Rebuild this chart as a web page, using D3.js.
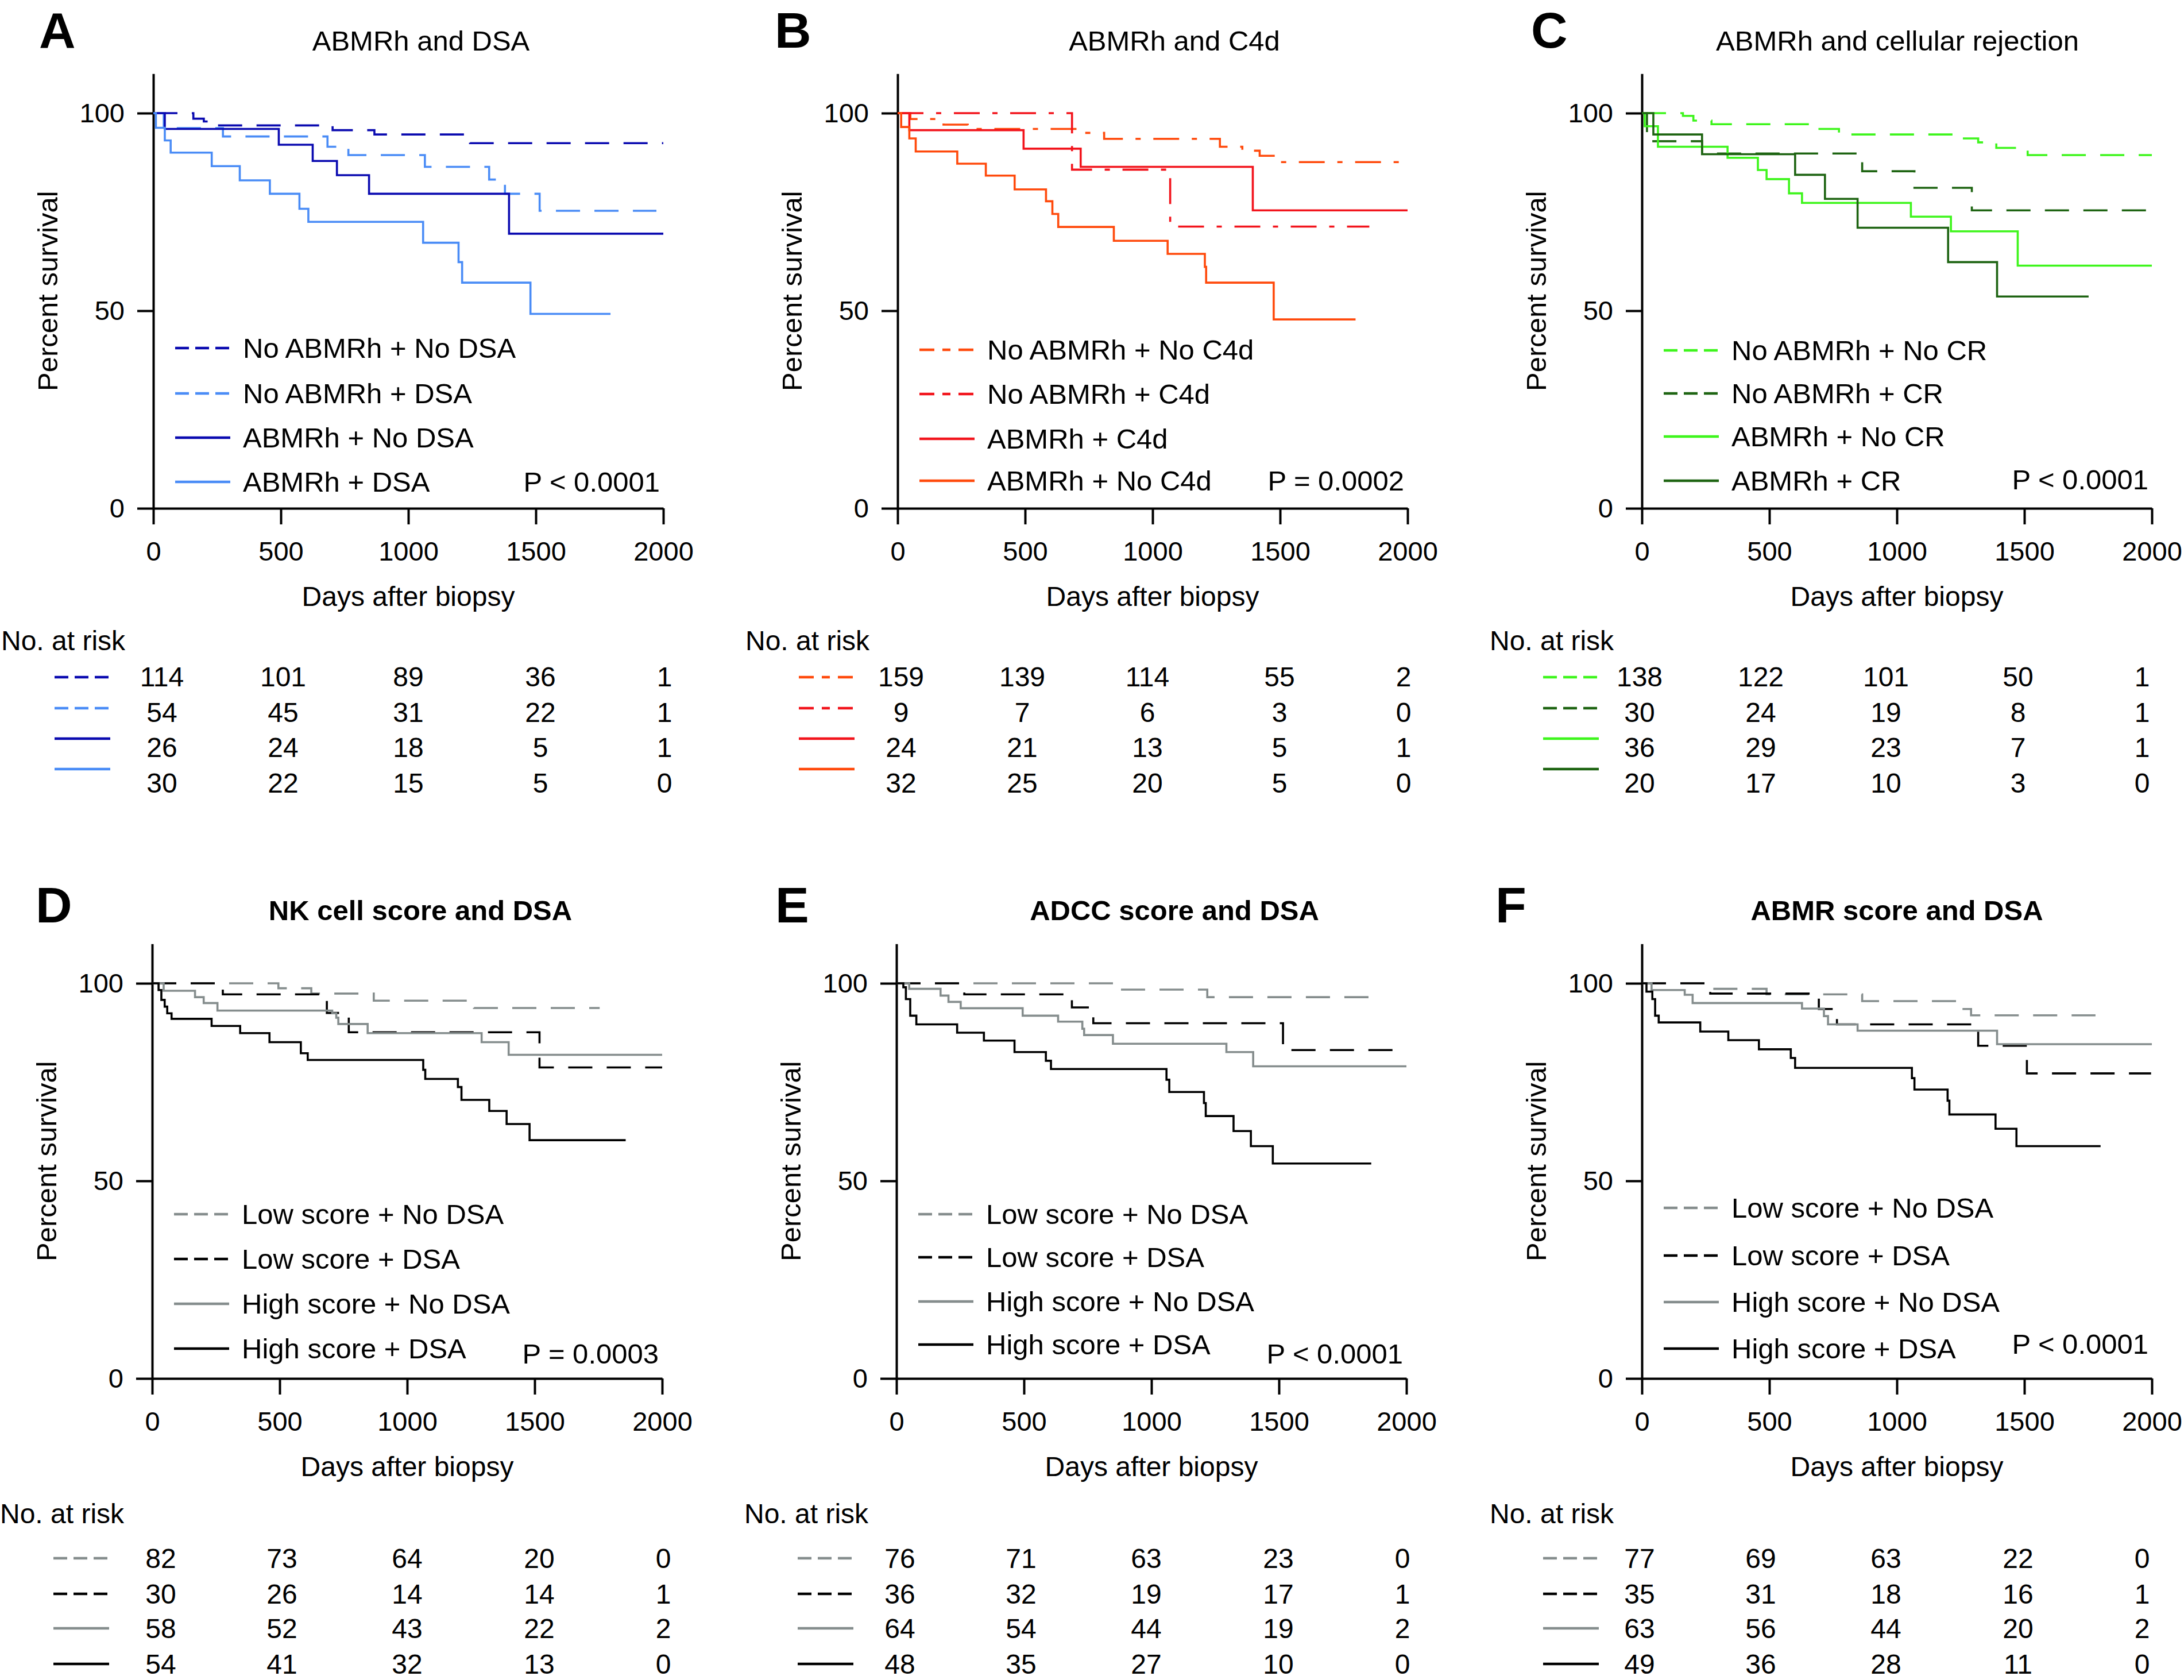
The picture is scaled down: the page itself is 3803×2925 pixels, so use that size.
<!DOCTYPE html>
<html><head><meta charset="utf-8">
<script src="https://cdn.jsdelivr.net/npm/d3@7"></script>
<style>
body{margin:0;background:#fff}
svg{display:block;background:#fff}
text{font-family:"Liberation Sans",Arial,Helvetica,sans-serif;fill:#000}
</style>
</head><body>
<svg id="chart" width="3803" height="2925"></svg>
<script>
// ---------------- DATA ----------------
const xTicks = [0, 500, 1000, 1500, 2000];
const yTicks = [0, 50, 100];
const panelLetters = ["A", "B", "C", "D", "E", "F"];
const panelTitles = ["ABMRh and DSA", "ABMRh and C4d", "ABMRh and cellular rejection",
                     "NK cell score and DSA", "ADCC score and DSA", "ABMR score and DSA"];
const pValues = ["P < 0.0001", "P = 0.0002", "P < 0.0001", "P = 0.0003", "P < 0.0001", "P < 0.0001"];

const labelsA = ["No ABMRh + No DSA", "No ABMRh + DSA", "ABMRh + No DSA", "ABMRh + DSA"];
const labelsB = ["No ABMRh + No C4d", "No ABMRh + C4d", "ABMRh + C4d", "ABMRh + No C4d"];
const labelsC = ["No ABMRh + No CR", "No ABMRh + CR", "ABMRh + No CR", "ABMRh + CR"];
const labelsScore = ["Low score + No DSA", "Low score + DSA", "High score + No DSA", "High score + DSA"];

// survival curves: [day, percent survival]
const A1 = [[0,100],[157,98.6],[198,97.9],[232,96.9],[703,95.7],[867,94.6],[1242,92.4],[2000,92.4]];
const A2 = [[0,100],[41,96.2],[273,94.1],[683,91.5],[765,89.4],[1065,86.4],[1317,83.2],[1379,79.6],[1515,75.3],[1973,75.3]];
const A3 = [[0,100],[45,96.0],[492,92.0],[625,87.9],[720,84.3],[846,79.6],[1395,69.5],[2000,69.5]];
const A4 = [[0,100],[10,96.3],[45,93.1],[68,90.0],[229,86.6],[339,83.0],[457,79.6],[573,75.8],[608,72.5],[1058,67.2],[1197,62.3],[1211,57.1],[1479,49.2],[1793,49.2]];

const B1 = [[0,100],[50,98.5],[180,97.1],[275,96.0],[740,95.0],[810,93.5],[1264,91.5],[1352,90.5],[1420,89.2],[1496,87.6],[2000,87.6]];
const B2 = [[0,100],[684,85.7],[1069,71.3],[1850,71.3]];
const B3 = [[0,100],[46,95.7],[494,91.0],[718,86.4],[1393,75.4],[2000,75.4]];
const B4 = [[0,100],[14,96.5],[46,93.6],[71,90.3],[234,87.2],[346,84.2],[459,80.7],[582,77.7],[607,74.5],[630,71.2],[848,67.7],[1059,64.4],[1205,61.1],[1210,57.1],[1475,47.8],[1796,47.8]];

const C1 = [[0,100],[161,99.3],[202,98.1],[273,97.2],[691,96.0],[773,94.6],[1246,93.6],[1319,92.6],[1390,91.2],[1513,89.4],[2000,89.4]];
const C2 = [[0,100],[20,92.9],[236,89.8],[864,85.3],[1069,81.1],[1294,75.4],[2000,75.4]];
const C3 = [[0,100],[11,96.7],[63,91.5],[336,88.7],[455,85.6],[489,83.3],[577,79.7],[628,77.3],[1055,73.8],[1212,70.1],[1474,61.4],[2000,61.4]];
const C4 = [[0,100],[45,94.6],[236,89.6],[601,84.4],[718,78.3],[846,71.0],[1201,62.3],[1393,53.6],[1752,53.6]];

const D1 = [[0,100],[495,98.75],[624,97.4],[869,95.6],[1262,93.75],[1755,93.75]];
const D2 = [[0,100],[277,97.2],[685,92.5],[771,87.6],[1519,78.7],[2000,78.7]];
const D3 = [[0,100],[45,98.1],[168,96.5],[202,95.0],[256,93.1],[706,92.4],[722,91.3],[730,89.7],[845,87.4],[1292,85.1],[1398,81.9],[2000,81.9]];
const D4 = [[0,100],[25,98.3],[36,95.8],[49,94.1],[59,92.4],[76,91.0],[233,89.2],[345,87.4],[460,85.1],[583,82.3],[610,80.6],[1063,78.1],[1071,75.8],[1199,73.75],[1213,70.5],[1322,67.7],[1390,64.4],[1480,60.3],[1857,60.3]];

const E1 = [[0,100],[865,98.4],[1219,96.5],[1853,96.5]];
const E2 = [[0,100],[266,97.2],[688,93.9],[772,89.9],[1516,83.1],[1948,83.1]];
const E3 = [[0,100],[50,98.6],[173,96.9],[204,95.3],[252,93.7],[495,91.8],[634,90.3],[729,88.5],[736,86.9],[849,84.7],[1294,82.6],[1399,79.0],[2000,79.0]];
const E4 = [[0,100],[27,99.0],[37,96.0],[54,91.8],[78,89.6],[238,87.5],[343,85.5],[463,82.6],[586,80.4],[606,78.3],[1059,75.6],[1070,72.5],[1206,69.7],[1213,66.4],[1322,62.6],[1390,58.8],[1476,54.4],[1862,54.4]];

const F1 = [[0,100],[270,98.6],[489,97.2],[864,95.5],[1253,93.5],[1291,91.9],[1779,91.9]];
const F2 = [[0,100],[268,97.4],[694,93.5],[765,89.6],[1319,84.2],[1510,77.2],[1997,77.2]];
const F3 = [[0,100],[38,98.3],[168,97.1],[199,95.0],[628,93.6],[714,91.7],[730,89.6],[846,88.0],[1393,84.6],[2000,84.6]];
const F4 = [[0,100],[18,97.9],[41,96.0],[52,91.8],[66,90.1],[229,87.8],[339,85.6],[459,83.3],[584,81.1],[601,78.6],[1059,76.0],[1069,73.1],[1199,70.3],[1206,66.8],[1387,63.2],[1469,58.8],[1799,58.8]];

// numbers at risk (at 0, 500, 1000, 1500, 2000 days)
const riskA = [[114,101,89,36,1],[54,45,31,22,1],[26,24,18,5,1],[30,22,15,5,0]];
const riskB = [[159,139,114,55,2],[9,7,6,3,0],[24,21,13,5,1],[32,25,20,5,0]];
const riskC = [[138,122,101,50,1],[30,24,19,8,1],[36,29,23,7,1],[20,17,10,3,0]];
const riskD = [[82,73,64,20,0],[30,26,14,14,1],[58,52,43,22,2],[54,41,32,13,0]];
const riskE = [[76,71,63,23,0],[36,32,19,17,1],[64,54,44,19,2],[48,35,27,10,0]];
const riskF = [[77,69,63,22,0],[35,31,18,16,1],[63,56,44,20,2],[49,36,28,11,0]];

// ---------------- STYLE / LAYOUT ----------------
const col = {
  darkBlue:"#0a0ab0", lightBlue:"#4a8cf6", orange:"#ff4a0c", red:"#f2141c",
  brightGreen:"#3ef51c", darkGreen:"#1e6412", gray:"#858d8d", black:"#000000"
};
const dash = {
  solid: {curve:null, key:null},
  dashed:{curve:"42,25", key:"24,11"},
  dashdot:{curve:"45,22,9,22", key:"26,14,14,14"}
};

const panels = [
  {series:[A1,A2,A3,A4], labels:labelsA, risk:riskA, colors:[col.darkBlue,col.lightBlue,col.darkBlue,col.lightBlue], styles:["dashed","dashed","solid","solid"], x0:267, y0:885, titleX:733, bold:false, letterX:68, leg:[-279,-200,-123,-46], pY:-46, row:"top", tShift:0},
  {series:[B1,B2,B3,B4], labels:labelsB, risk:riskB, colors:[col.orange,col.red,col.red,col.orange], styles:["dashdot","dashdot","solid","solid"], x0:1563, y0:885, titleX:2045, bold:false, letterX:1349, leg:[-276,-199,-121,-48], pY:-48, row:"top", tShift:-9},
  {series:[C1,C2,C3,C4], labels:labelsC, risk:riskC, colors:[col.brightGreen,col.darkGreen,col.brightGreen,col.darkGreen], styles:["dashed","dashed","solid","solid"], x0:2859, y0:885, titleX:3304, bold:false, letterX:2666, leg:[-275,-200,-125,-48], pY:-50, row:"top", tShift:-19},
  {series:[D1,D2,D3,D4], labels:labelsScore, risk:riskD, colors:[col.gray,col.black,col.gray,col.black], styles:["dashed","dashed","solid","solid"], x0:265, y0:2400, titleX:732, bold:true, letterX:62, leg:[-286,-208,-130,-52], pY:-43, row:"bottom", tShift:0},
  {series:[E1,E2,E3,E4], labels:labelsScore, risk:riskE, colors:[col.gray,col.black,col.gray,col.black], styles:["dashed","dashed","solid","solid"], x0:1561, y0:2400, titleX:2045, bold:true, letterX:1350, leg:[-286,-211,-134,-59], pY:-43, row:"bottom", tShift:-9},
  {series:[F1,F2,F3,F4], labels:labelsScore, risk:riskF, colors:[col.gray,col.black,col.gray,col.black], styles:["dashed","dashed","solid","solid"], x0:2859, y0:2400, titleX:3303, bold:true, letterX:2604, leg:[-297,-214,-133,-52], pY:-60, row:"bottom", tShift:-19}
];

const rowCfg = {
  top:   {titleDy:-797, letterDy:-802, noRiskDy:247, numDy:[293,355,416,478], symDy:[294,348,401,454]},
  bottom:{titleDy:-798, letterDy:-794, noRiskDy:252, numDy:[313,375,435,497], symDy:[313,375,435,497]}
};
const riskColOffsets = [15, 4, 0, 8, 2];

const plotW = 888, unitH = 6.88;
const FS = 47;

const svg = d3.select("#chart");
svg.append("rect").attr("width",3803).attr("height",2925).attr("fill","#fff");

panels.forEach((p, i) => {
  const rc = rowCfg[p.row];
  const x = d3.scaleLinear().domain([0,2000]).range([p.x0, p.x0 + plotW]);
  const y = d3.scaleLinear().domain([0,110]).range([p.y0, p.y0 - 110*unitH]);
  const g = svg.append("g");

  // panel letter
  g.append("text").attr("x", p.letterX).attr("y", p.y0 + rc.letterDy)
    .attr("font-size", 88).attr("font-weight","bold").text(panelLetters[i]);
  // title
  g.append("text").attr("x", p.titleX).attr("y", p.y0 + rc.titleDy)
    .attr("text-anchor","middle").attr("font-size", 49)
    .attr("font-weight", p.bold ? "bold" : "normal").text(panelTitles[i]);

  // axes
  const xAxis = d3.axisBottom(x).tickValues(xTicks).tickSize(28).tickSizeOuter(0).tickPadding(30).tickFormat(d3.format("d"));
  const yAxis = d3.axisLeft(y).tickValues(yTicks).tickSize(28).tickSizeOuter(0).tickPadding(22).tickFormat(d3.format("d"));
  const gx = g.append("g").attr("transform", `translate(0,${p.y0})`).call(xAxis);
  const gy = g.append("g").attr("transform", `translate(${p.x0},0)`).call(yAxis);
  [gx, gy].forEach(a => {
    a.selectAll("path,line").attr("stroke","#000").attr("stroke-width",4);
    a.selectAll("text").attr("font-size", FS).attr("font-family",'"Liberation Sans",Arial,sans-serif').attr("fill","#000");
  });

  // axis titles
  g.append("text").attr("x", x(1000)).attr("y", p.y0 + 170)
    .attr("text-anchor","middle").attr("font-size", 48).text("Days after biopsy");
  g.append("text").attr("transform", `translate(${p.x0 - 167},${y(55)}) rotate(-90)`)
    .attr("text-anchor","middle").attr("font-size", 49).text("Percent survival");

  // curves
  const line = d3.line().x(d => x(d[0])).y(d => y(d[1])).curve(d3.curveStepAfter);
  p.series.forEach((s, k) => {
    const st = dash[p.styles[k]];
    g.append("path").datum(s).attr("d", line)
      .attr("fill","none").attr("stroke", p.colors[k]).attr("stroke-width", 3.6)
      .attr("stroke-dasharray", st.curve);
  });

  // legend
  p.labels.forEach((lab, k) => {
    const cy = p.y0 + p.leg[k];
    const st = dash[p.styles[k]];
    g.append("line").attr("x1", p.x0 + 38).attr("x2", p.x0 + 134).attr("y1", cy).attr("y2", cy)
      .attr("stroke", p.colors[k]).attr("stroke-width", 4.5).attr("stroke-dasharray", st.key);
    g.append("text").attr("x", p.x0 + 156).attr("y", cy + 17).attr("font-size", 49).text(lab);
  });
  g.append("text").attr("x", p.x0 + 882).attr("y", p.y0 + p.pY + 17)
    .attr("text-anchor","end").attr("font-size", 49).text(pValues[i]);

  // number at risk table
  g.append("text").attr("x", p.x0 - 265).attr("y", p.y0 + rc.noRiskDy).attr("font-size", 48).text("No. at risk");
  p.risk.forEach((rowVals, k) => {
    const st = dash[p.styles[k]];
    const sy = p.y0 + rc.symDy[k];
    g.append("line").attr("x1", p.x0 - 172).attr("x2", p.x0 - 75).attr("y1", sy).attr("y2", sy)
      .attr("stroke", p.colors[k]).attr("stroke-width", 4.5).attr("stroke-dasharray", st.key);
    rowVals.forEach((v, j) => {
      g.append("text").attr("x", x(xTicks[j]) + riskColOffsets[j] + p.tShift).attr("y", p.y0 + rc.numDy[k] + 17)
        .attr("text-anchor","middle").attr("font-size", 48).text(v);
    });
  });
});
</script>
</body></html>
